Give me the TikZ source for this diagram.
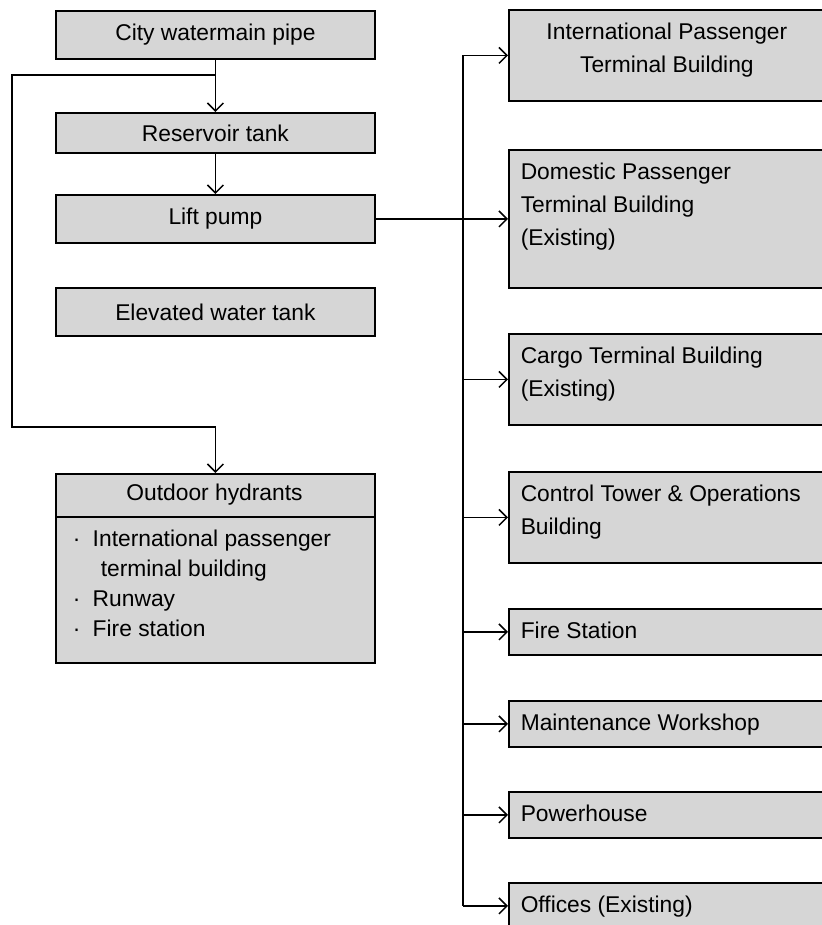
\documentclass[tikz,border=0pt]{standalone}
\usepackage{fontspec}
\setmainfont{Liberation Sans}
\usepackage{tikz}
\usetikzlibrary{arrows.meta}

\begin{document}
\begin{tikzpicture}[x=1pt,y=-1pt,>={Straight Barb[length=8pt,width=16pt]},
  line width=1.5pt,font=\fontsize{22.8}{33}\selectfont,
  lbox/.style={draw,line width=1.8pt,fill=black!16,inner sep=0pt,anchor=north west,minimum width=319pt},
  rbox/.style={draw,line width=1.8pt,fill=black!16,inner sep=0pt,anchor=north west,minimum width=316pt},
  rtxt/.style={anchor=north west,align=left,inner sep=0pt}]
\useasboundingbox (0,0) rectangle (821,925);
% supply side
\node[lbox,minimum height=48pt] (city) at (55,10) {City watermain pipe};
\node[lbox,minimum height=40pt] (res) at (55,112) {Reservoir tank};
\node[lbox,minimum height=48pt] (lift) at (55,194) {Lift pump};
\node[lbox,minimum height=48pt] (elev) at (55,287) {Elevated water tank};
\node[lbox,minimum height=189pt] (hyd) at (55,473) {};
\coordinate (div) at (0,517);
\draw[line width=1.8pt] (hyd.west |- div) -- (hyd.east |- div);
\node[inner sep=0pt] (hyd-title) at (214.5,495) {Outdoor hydrants};
\node[rtxt,font=\fontsize{22.8}{30}\selectfont] (hyd-list) at (72,525)
  {\strut\makebox[20pt][l]{·}International passenger\\
   \hspace*{28pt}terminal building\\
   \makebox[20pt][l]{·}Runway\\
   \makebox[20pt][l]{·}Fire station};
% buildings
\node[rbox,minimum height=91pt] (intl) at (508,9) {};
\node[rbox,minimum height=138pt] (dom) at (508,149) {};
\node[rbox,minimum height=91pt] (cargo) at (508,333) {};
\node[rbox,minimum height=91pt] (ctrl) at (508,471) {};
\node[rbox,minimum height=46pt] (fire) at (508,608) {};
\node[rbox,minimum height=46pt] (maint) at (508,700) {};
\node[rbox,minimum height=46pt] (power) at (508,791) {};
\node[rbox,minimum height=46pt] (office) at (508,882) {};
\node[anchor=north,align=center,inner sep=0pt] (intl-t) at ([shift={(0,7)}]intl.north)
  {\strut International Passenger\\Terminal Building};
\node[rtxt] (dom-t) at ([shift={(12,7)}]dom.north west) {\strut Domestic Passenger\\Terminal Building\\(Existing)};
\node[rtxt] (cargo-t) at ([shift={(12,7)}]cargo.north west) {\strut Cargo Terminal Building\\(Existing)};
\node[rtxt] (ctrl-t) at ([shift={(12,7)}]ctrl.north west) {\strut Control Tower \& Operations\\Building};
\node[rtxt] (fire-t) at ([shift={(12,7)}]fire.north west) {\strut Fire Station};
\node[rtxt] (maint-t) at ([shift={(12,7)}]maint.north west) {\strut Maintenance Workshop};
\node[rtxt] (power-t) at ([shift={(12,7)}]power.north west) {\strut Powerhouse};
\node[rtxt] (office-t) at ([shift={(12,7)}]office.north west) {\strut Offices (Existing)};
% pipes
\coordinate (tee) at (214.5,75);
\coordinate (lc) at (12,427);
\coordinate (bus) at (463,0);
\draw[->] (city.south) -- (res.north);
\draw[->] (res.south) -- (lift.north);
\draw[->] (tee) -| (lc) -| (hyd.north);
\draw[->] (lift.east) -- (dom.west);
\draw (bus |- intl.west) -- (bus |- office.west);
\foreach \b in {intl,cargo,ctrl,fire,maint,power,office}
  \draw[->] (bus |- \b.west) -- (\b.west);
\end{tikzpicture}
\end{document}
